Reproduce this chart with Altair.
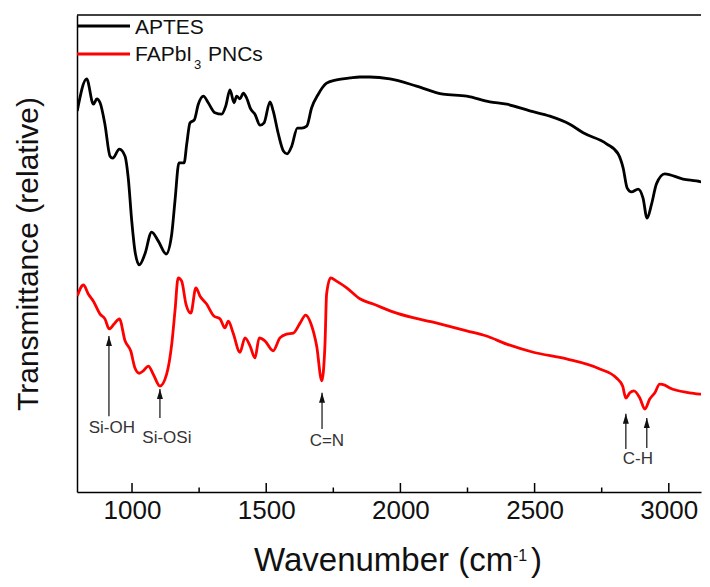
import altair as alt
import pandas as pd

# ---------------- data ----------------
aptes_wn = [796, 831, 856, 869, 881, 899, 918, 928, 953, 974, 986, 999, 1011, 1027, 1048,
            1073, 1098, 1127, 1148, 1160, 1175, 1194, 1204, 1216, 1232, 1247, 1266, 1284, 1309, 1334,
            1349, 1365, 1380, 1390, 1402, 1415, 1427, 1442, 1458, 1477, 1492, 1514, 1526, 1545, 1564,
            1578, 1595, 1616, 1632, 1651, 1669, 1694, 1725, 1762, 1812, 1849, 1886, 1961, 2060, 2159,
            2247, 2333, 2396, 2482, 2557, 2631, 2681, 2768, 2811, 2830, 2845, 2861, 2886, 2904, 2919,
            2936, 2954, 2985, 3053, 3103, 3153]
aptes_t = [79.9, 86.6, 81.3, 82.4, 81.6, 77.1, 70.4, 70.0, 71.9, 70.4, 65.8, 56.8, 50.5, 47.6, 49.9,
           54.5, 52.6, 49.9, 54.1, 61.0, 69.0, 69.0, 73.0, 77.4, 78.0, 81.3, 83.0, 81.6, 79.5, 79.2,
           80.9, 84.3, 81.6, 83.0, 82.4, 83.6, 82.6, 80.3, 79.2, 76.9, 77.4, 81.8, 79.9, 75.1, 71.5,
           70.9, 72.5, 76.3, 76.3, 76.7, 80.5, 83.4, 85.7, 86.4, 86.8, 87.0, 87.0, 86.6, 85.1, 83.4,
           83.0, 81.8, 81.3, 79.9, 78.8, 77.1, 75.3, 73.0, 70.9, 67.9, 63.7, 62.9, 63.5, 61.6, 57.4,
           60.4, 64.6, 66.7, 65.6, 65.2, 64.6]

fapbi_wn = [796, 819, 837, 856, 881, 899, 915, 933, 953, 974, 995, 1011, 1027, 1042, 1061,
            1079, 1104, 1129, 1148, 1160, 1172, 1185, 1201, 1219, 1238, 1253, 1278, 1305, 1328, 1346,
            1359, 1377, 1402, 1421, 1440, 1458, 1474, 1495, 1526, 1551, 1576, 1601, 1626, 1647, 1666,
            1688, 1707, 1719, 1725, 1740, 1762, 1800, 1849, 1899, 1986, 2122, 2247, 2321, 2396, 2495,
            2619, 2743, 2805, 2828, 2840, 2855, 2870, 2892, 2911, 2929, 2948, 2966, 2985, 3004, 3078,
            3115, 3153]
fapbi_t = [41.1, 43.4, 41.5, 40.0, 37.3, 36.3, 34.2, 35.2, 36.3, 31.7, 29.6, 26.0, 24.9, 25.4, 26.4,
           24.7, 22.2, 24.7, 31.0, 37.9, 44.9, 44.2, 39.4, 37.5, 42.8, 41.1, 39.4, 36.9, 36.3, 34.4,
           35.8, 33.3, 29.3, 32.3, 30.6, 28.1, 32.3, 31.7, 29.6, 32.3, 33.1, 33.3, 35.4, 37.1, 35.4,
           30.6, 23.3, 31.0, 41.5, 44.9, 44.2, 42.8, 40.5, 39.4, 37.5, 35.6, 33.8, 32.7, 31.0, 29.3,
           27.9, 25.8, 23.9, 22.2, 19.7, 20.8, 21.2, 19.7, 17.4, 19.5, 20.8, 22.6, 22.4, 21.8, 20.8,
           20.5, 20.8]

series_names = ["APTES", "FAPbI3 PNCs"]
series_colors = ["#000000", "#ff0000"]

ann_labels = ["Si-OH", "Si-OSi", "C=N", "C-H"]
ann_label_wn = [925, 1130, 1726, 2885]
ann_label_t = [13.4, 11.3, 10.7, 6.9]

arrow_wn = [914, 1104, 1708, 2840, 2918]
arrow_tip = [32.7, 21.6, 20.8, 16.4, 15.5]
arrow_base = [15.9, 15.5, 13.2, 9.0, 9.2]

major_ticks = [1000, 1500, 2000, 2500, 3000]
minor_ticks = [1250, 1750, 2250, 2750]

X_MIN, X_MAX = 795, 3120
Y_MIN, Y_MAX = 0, 100

# ---------------- styling ----------------
FONT = "Liberation Sans"
W, H = 624, 477

xscale = alt.Scale(domain=[X_MIN, X_MAX], nice=False, zero=False)
yscale = alt.Scale(domain=[Y_MIN, Y_MAX], nice=False, zero=False)
xaxis = alt.Axis(values=major_ticks, ticks=False, grid=False, title=None, format="d",
                 labelFont=FONT, labelFontSize=26, labelColor="#111", labelPadding=5,
                 domainColor="black", domainWidth=1.5)
yaxis = alt.Axis(ticks=False, labels=False, grid=False, title="Transmittance (relative)",
                 titleFont=FONT, titleFontSize=30, titleFontWeight="normal", titleColor="#111",
                 titlePadding=34, domainColor="black", domainWidth=1.5)


def X(f):
    return alt.X(f"{f}:Q", scale=xscale, axis=xaxis)


def Y(f):
    return alt.Y(f"{f}:Q", scale=yscale, axis=yaxis)


spectra = pd.concat([
    pd.DataFrame({"wn": aptes_wn, "t": aptes_t, "series": series_names[0]}),
    pd.DataFrame({"wn": fapbi_wn, "t": fapbi_t, "series": series_names[1]}),
])

lines = alt.Chart(spectra).mark_line(strokeWidth=2.8, strokeJoin="round", interpolate="monotone",
                                     clip=True).encode(
    x=X("wn"), y=Y("t"),
    color=alt.Color("series:N", scale=alt.Scale(domain=series_names, range=series_colors), legend=None),
    detail="series:N",
)

major = alt.Chart(pd.DataFrame({"x": major_ticks})).mark_rule(color="black", strokeWidth=1.5).encode(
    x=X("x"), y=alt.value(H), y2=alt.value(H - 9))
minor = alt.Chart(pd.DataFrame({"x": minor_ticks})).mark_rule(color="black", strokeWidth=1.5).encode(
    x=X("x"), y=alt.value(H), y2=alt.value(H - 4.5))

one = pd.DataFrame({"a": [0]})
top_border = alt.Chart(one).mark_rule(color="black", strokeWidth=1.5).encode(y=alt.value(0))

arrows_df = pd.DataFrame({"x": arrow_wn, "tip": arrow_tip, "base": arrow_base})
shafts = alt.Chart(arrows_df).mark_rule(color="#222", strokeWidth=1.3).encode(
    x=X("x"), y=Y("base"), y2="tip:Q")
heads = alt.Chart(arrows_df).mark_point(shape="M0,-1L0.6,1L-0.6,1Z", filled=True, size=100,
                                        color="#111", opacity=1, yOffset=5).encode(
    x=X("x"), y=Y("tip"))

ann_df = pd.DataFrame({"x": ann_label_wn, "t": ann_label_t, "label": ann_labels})
ann = alt.Chart(ann_df).mark_text(font=FONT, fontSize=17, color="#333", align="center",
                                  baseline="middle").encode(x=X("x"), y=Y("t"), text="label:N")

# legend (drawn inside the plot, top-left)
leg_line1 = alt.Chart(one).mark_rule(color=series_colors[0], strokeWidth=2.8).encode(
    x=alt.value(0), x2=alt.value(53), y=alt.value(11))
leg_line2 = alt.Chart(one).mark_rule(color=series_colors[1], strokeWidth=2.8).encode(
    x=alt.value(0), x2=alt.value(53), y=alt.value(39))
leg_t1 = alt.Chart(one).mark_text(text="APTES", font=FONT, fontSize=21, color="#111", align="left",
                                  baseline="middle").encode(x=alt.value(58), y=alt.value(12.5))
leg_t2a = alt.Chart(one).mark_text(text="FAPbI", font=FONT, fontSize=21, color="#111", align="left",
                                   baseline="middle").encode(x=alt.value(58), y=alt.value(40))
leg_t2b = alt.Chart(one).mark_text(text="3", font=FONT, fontSize=13, color="#111", align="left",
                                   baseline="middle").encode(x=alt.value(117), y=alt.value(50))
leg_t2c = alt.Chart(one).mark_text(text="PNCs", font=FONT, fontSize=21, color="#111", align="left",
                                   baseline="middle").encode(x=alt.value(131), y=alt.value(40))

# x-axis title with superscript
xt1 = alt.Chart(one).mark_text(text="Wavenumber (cm", font=FONT, fontSize=33, color="#111", align="left",
                               baseline="alphabetic").encode(x=alt.value(177), y=alt.value(556))
xt2 = alt.Chart(one).mark_text(text="-1", font=FONT, fontSize=16, color="#111", align="left",
                               baseline="alphabetic").encode(x=alt.value(436), y=alt.value(546))
xt3 = alt.Chart(one).mark_text(text=")", font=FONT, fontSize=33, color="#111", align="left",
                               baseline="alphabetic").encode(x=alt.value(454), y=alt.value(556))

chart = alt.layer(
    lines, major, minor, top_border, shafts, heads, ann,
    leg_line1, leg_line2, leg_t1, leg_t2a, leg_t2b, leg_t2c, xt1, xt2, xt3,
).properties(
    width=W, height=H,
    padding={"left": 5, "top": 6, "right": 0, "bottom": 0},
).configure(background="white").configure_view(stroke=None)

chart.save("out.html", embed_options={"renderer": "svg", "actions": False})
